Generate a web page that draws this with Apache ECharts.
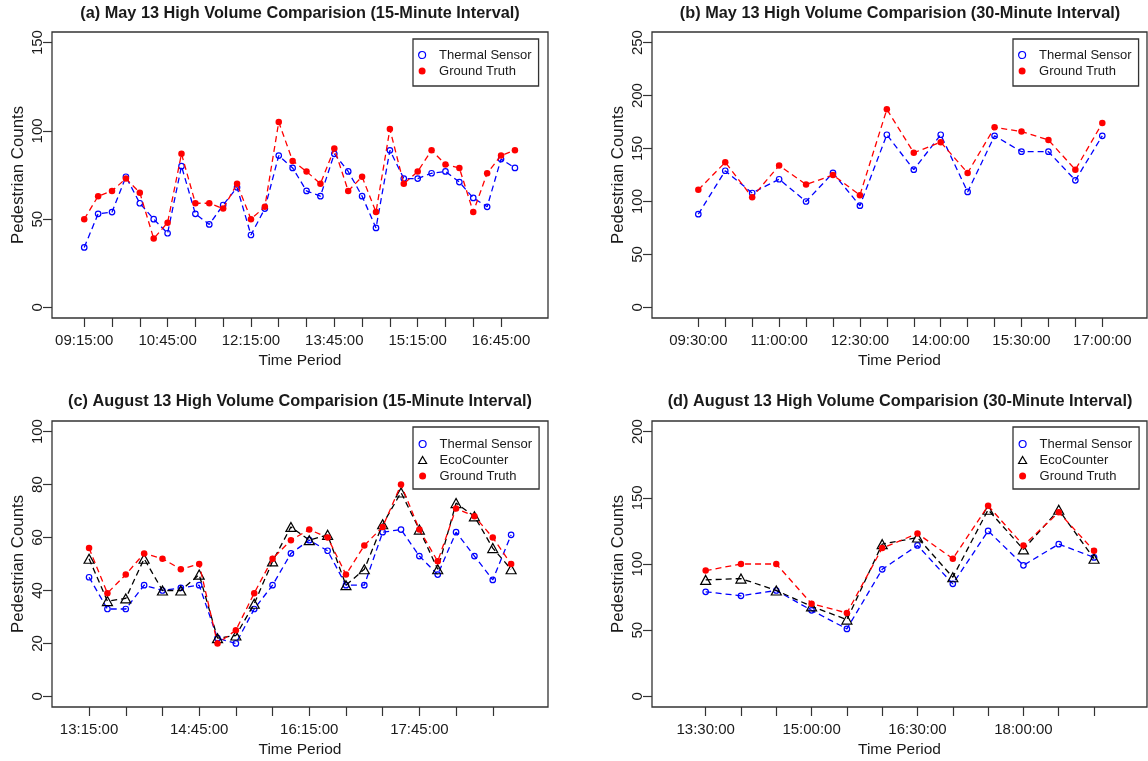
<!DOCTYPE html>
<html><head><meta charset="utf-8">
<script src="https://cdn.jsdelivr.net/npm/echarts@6/dist/echarts.min.js"></script>
<style>html,body{margin:0;padding:0;background:#fff}#c{width:1148px;height:761px}</style>
</head><body><div id="c"></div>
<script>
// ---------- data ----------
const aTimes = ['09:15:00','09:30:00','09:45:00','10:00:00','10:15:00','10:30:00','10:45:00','11:00:00','11:15:00','11:30:00','11:45:00','12:00:00','12:15:00','12:30:00','12:45:00','13:00:00','13:15:00','13:30:00','13:45:00','14:00:00','14:15:00','14:30:00','14:45:00','15:00:00','15:15:00','15:30:00','15:45:00','16:00:00','16:15:00','16:30:00','16:45:00','17:00:00'];
const aLabels = ['09:15:00','10:45:00','12:15:00','13:45:00','15:15:00','16:45:00'];
const aThermal = [34,53,54,74,59,50,42,80,53,47,58,68,41,56,86,79,66,63,87,77,63,45,89,73,73,76,77,71,62,57,84,79];
const aTruth   = [50,63,66,73,65,39,48,87,59,59,56,70,50,57,105,83,77,70,90,66,74,54,101,70,77,89,81,79,54,76,86,89];
const aYTicks = [0,50,100,150];

const bTimes = ['09:30:00','10:00:00','10:30:00','11:00:00','11:30:00','12:00:00','12:30:00','13:00:00','13:30:00','14:00:00','14:30:00','15:00:00','15:30:00','16:00:00','16:30:00','17:00:00'];
const bLabels = ['09:30:00','11:00:00','12:30:00','14:00:00','15:30:00','17:00:00'];
const bThermal = [88,129,108,121,100,127,96,163,130,163,109,162,147,147,120,162];
const bTruth   = [111,137,104,134,116,125,106,187,146,156,127,170,166,158,130,174];
const bYTicks = [0,50,100,150,200,250];

const cTimes = ['13:15:00','13:30:00','13:45:00','14:00:00','14:15:00','14:30:00','14:45:00','15:00:00','15:15:00','15:30:00','15:45:00','16:00:00','16:15:00','16:30:00','16:45:00','17:00:00','17:15:00','17:30:00','17:45:00','18:00:00','18:15:00','18:30:00','18:45:00','19:00:00'];
const cLabels = ['13:15:00','14:45:00','16:15:00','17:45:00'];
const cThermal = [45,33,33,42,40,41,42,22,20,33,42,54,59,55,42,42,62,63,53,46,62,53,44,61];
const cEco     = [52,36,37,52,40,40,46,22,23,35,51,64,59,61,42,48,65,77,63,48,73,68,56,48];
const cTruth   = [56,39,46,54,52,48,50,20,25,39,52,59,63,60,46,57,64,80,63,51,71,68,60,50];
const cYTicks = [0,20,40,60,80,100];

const dTimes = ['13:30:00','14:00:00','14:30:00','15:00:00','15:30:00','16:00:00','16:30:00','17:00:00','17:30:00','18:00:00','18:30:00','19:00:00'];
const dLabels = ['13:30:00','15:00:00','16:30:00','18:00:00'];
const dThermal = [79,76,80,65,51,96,114,85,125,99,115,105];
const dEco     = [88,89,80,68,58,115,120,90,141,111,141,104];
const dTruth   = [95,100,100,70,63,112,123,104,144,114,139,110];
const dYTicks = [0,50,100,150,200];

const titles = [
  '(a) May 13 High Volume Comparision (15-Minute Interval)',
  '(b) May 13 High Volume Comparision (30-Minute Interval)',
  '(c) August 13 High Volume Comparision (15-Minute Interval)',
  '(d) August 13 High Volume Comparision (30-Minute Interval)'
];

// ---------- layout / style ----------
const FONT = "'Liberation Sans', Arial, Helvetica, sans-serif";
const TXT = '#1a1a1a';
const panels = [
  {times:aTimes, labels:aLabels, yTicks:aYTicks, series:[['Thermal Sensor',aThermal],['Ground Truth',aTruth]],
   grid:{left:52,top:32,width:496,height:286}, xMin:-2.32, xMax:33.38, yMin:-6, yMax:156, tickStep:2, tickLast:30,
   legend:{left:413,top:39}, tx:300, ty:6},
  {times:bTimes, labels:bLabels, yTicks:bYTicks, series:[['Thermal Sensor',bThermal],['Ground Truth',bTruth]],
   grid:{left:652,top:32,width:495,height:286}, xMin:-1.72, xMax:16.66, yMin:-10, yMax:260, tickStep:1, tickLast:15,
   legend:{left:1013,top:39}, tx:900, ty:6},
  {times:cTimes, labels:cLabels, yTicks:cYTicks, series:[['Thermal Sensor',cThermal],['EcoCounter',cEco],['Ground Truth',cTruth]],
   grid:{left:52,top:421,width:496,height:286}, xMin:-2.02, xMax:25.01, yMin:-4, yMax:104, tickStep:2, tickLast:22,
   legend:{left:413,top:427}, tx:300, ty:394},
  {times:dTimes, labels:dLabels, yTicks:dYTicks, series:[['Thermal Sensor',dThermal],['EcoCounter',dEco],['Ground Truth',dTruth]],
   grid:{left:652,top:421,width:495,height:286}, xMin:-1.52, xMax:12.5, yMin:-8, yMax:208, tickStep:1, tickLast:11,
   legend:{left:1013,top:427}, tx:900, ty:394}
];

const sty = {
  'Thermal Sensor': {symbol:'circle', size:5.5, color:'#0000ff', fill:'rgba(0,0,0,0)', bw:1.2, z:2},
  'EcoCounter':     {symbol:'triangle', size:[10,9], color:'#000000', fill:'rgba(0,0,0,0)', bw:1.2, z:3},
  'Ground Truth':   {symbol:'circle', size:6.5, color:'#ff0000', fill:'#ff0000', bw:0, z:4}
};

const option = {
  backgroundColor:'#fff', animation:false,
  title:[], grid:[], xAxis:[], yAxis:[], legend:[], series:[]
};

panels.forEach((p, k) => {
  option.title.push({text:titles[k], left:p.tx, top:p.ty, padding:0, textAlign:'center',
    textStyle:{fontFamily:FONT, fontSize:16.3, fontWeight:'bold', color:TXT}});
  option.grid.push(Object.assign({show:true, borderColor:'#333', borderWidth:1.3, backgroundColor:'#fff', containLabel:false}, p.grid));
  const ticks = [];
  for (let i = 0; i <= p.tickLast; i += p.tickStep) ticks.push(i);
  const labelIdx = p.labels.map(l => p.times.indexOf(l));
  option.xAxis.push({type:'value', gridIndex:k, min:p.xMin, max:p.xMax, position:'bottom',
    splitLine:{show:false}, axisLine:{show:false, onZero:false},
    axisTick:{show:true, length:9, customValues:ticks, lineStyle:{color:'#333', width:1.2}},
    axisLabel:{customValues:labelIdx, formatter:v => p.times[Math.round(v)], margin:15, fontSize:15, fontFamily:FONT, color:TXT, hideOverlap:false},
    name:'Time Period', nameLocation:'middle', nameGap:35,
    nameTextStyle:{fontFamily:FONT, fontSize:15.5, color:TXT}});
  option.yAxis.push({type:'value', gridIndex:k, min:p.yMin, max:p.yMax, position:'left',
    splitLine:{show:false}, axisLine:{show:false, onZero:false},
    axisTick:{show:true, length:9, customValues:p.yTicks, lineStyle:{color:'#333', width:1.2}},
    axisLabel:{customValues:p.yTicks, rotate:90, margin:7, fontSize:15, fontFamily:FONT, color:TXT, hideOverlap:false},
    name:'Pedestrian Counts', nameLocation:'middle', nameGap:25, nameRotate:90,
    nameTextStyle:{fontFamily:FONT, fontSize:16.8, color:TXT}});
  option.legend.push({orient:'vertical', left:p.legend.left, top:p.legend.top,
    padding: p.series.length === 3 ? [10,7,6,5] : [9,7,8,5],
    itemGap:2, itemWidth:8, itemHeight:7, selectedMode:false,
    borderColor:'#333', borderWidth:1.3, backgroundColor:'#fff',
    textStyle:{fontFamily:FONT, fontSize:13, color:TXT, lineHeight:14, padding:[0,0,0,8]},
    data:p.series.map(s => {
      const st = sty[s[0]];
      return {name:s[0], icon:st.symbol,
        itemStyle:{color:st.fill, borderColor:st.color, borderWidth:st.bw}};
    })});
  p.series.forEach(s => {
    const st = sty[s[0]];
    option.series.push({type:'line', name:s[0], xAxisIndex:k, yAxisIndex:k, z:st.z,
      data:s[1].map((v, i) => [i, v]),
      symbol:st.symbol, symbolSize:st.size, showAllSymbol:true,
      itemStyle:{color:st.fill, borderColor:st.color, borderWidth:st.bw},
      lineStyle:{color:st.color, width:1.3, type:[6,4]},
      emphasis:{disabled:true}});
  });
});

const chart = echarts.init(document.getElementById('c'), null, {renderer:'canvas'});
chart.setOption(option);
</script></body></html>
